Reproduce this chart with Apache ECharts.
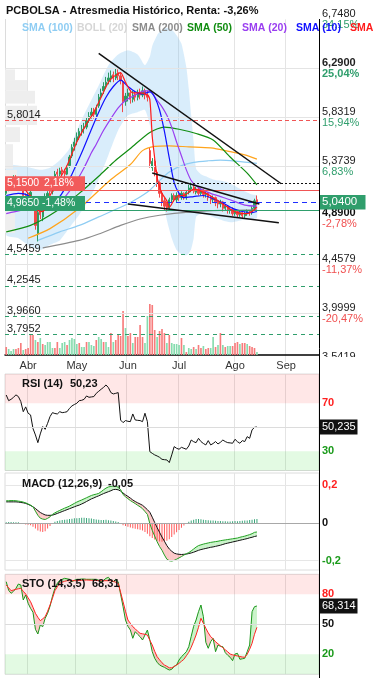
<!DOCTYPE html>
<html><head><meta charset="utf-8">
<script src="https://cdn.jsdelivr.net/npm/echarts@6/dist/echarts.min.js"></script>
<style>html,body{margin:0;padding:0;background:#fff}#c{width:373px;height:678px}</style>
</head><body><div id="c"></div>
<script>
// ---------- DATA ----------
const holidays = ['2025-04-18','2025-04-21','2025-05-01'];
const categories = [];
(function(){let d=new Date(Date.UTC(2025,2,19));while(categories.length<129){const wd=d.getUTCDay();const s=d.toISOString().slice(0,10);if(wd!==0&&wd!==6&&holidays.indexOf(s)<0)categories.push(s);d=new Date(d.getTime()+86400000);}})();
const MONTHS = ['Ene','Feb','Mar','Abr','May','Jun','Jul','Ago','Sep','Oct','Nov','Dic'];

// [open, close, low, high]
const ohlc = [
[5.12,5.16,5.10,5.19],[5.16,5.20,5.14,5.22],[5.20,5.22,5.17,5.25],[5.22,5.26,5.20,5.29],[5.27,5.24,5.21,5.29],
[5.24,5.20,5.18,5.26],[5.20,5.18,5.15,5.22],[5.18,5.10,5.08,5.19],[5.10,5.06,5.03,5.12],[5.06,5.10,5.04,5.13],
[5.08,5.13,5.06,5.15],[5.06,5.00,4.97,5.08],[4.97,4.82,4.78,4.99],[4.74,4.94,4.67,4.97],[5.02,4.92,4.88,5.05],
[4.90,5.02,4.86,5.05],[5.04,5.08,5.00,5.12],[5.06,5.12,5.04,5.14],[5.15,5.14,5.10,5.18],[5.14,5.16,5.11,5.19],
[5.20,5.30,5.18,5.33],[5.32,5.30,5.27,5.35],[5.30,5.33,5.28,5.36],[5.34,5.32,5.29,5.37],[5.33,5.30,5.27,5.35],
[5.30,5.36,5.29,5.38],[5.38,5.46,5.36,5.48],[5.47,5.55,5.45,5.58],[5.56,5.60,5.52,5.64],[5.61,5.65,5.57,5.69],
[5.65,5.70,5.62,5.73],[5.70,5.72,5.66,5.76],[5.73,5.74,5.68,5.78],[5.74,5.80,5.72,5.83],[5.82,5.84,5.78,5.88],
[5.85,5.88,5.82,5.92],[5.90,5.86,5.82,5.92],[5.86,5.92,5.84,5.95],[5.94,6.02,5.92,6.05],[6.03,6.06,6.00,6.10],
[6.08,6.12,6.05,6.16],[6.13,6.16,6.10,6.21],[6.17,6.20,6.14,6.25],[6.20,6.22,6.16,6.27],[6.23,6.20,6.16,6.26],
[6.20,6.24,6.18,6.29],[6.25,6.22,6.18,6.28],[6.22,6.18,6.14,6.25],[6.16,5.98,5.88,6.18],[5.98,6.03,5.94,6.06],
[6.03,6.06,5.98,6.10],[6.06,6.00,5.96,6.09],[6.00,6.04,5.97,6.08],[6.05,6.02,5.98,6.08],[6.02,6.06,5.99,6.09],
[6.06,6.04,6.00,6.10],[6.04,6.08,6.02,6.12],[6.08,6.04,6.00,6.10],[6.04,6.02,5.98,6.08],[5.52,5.40,5.36,5.55],
[5.36,5.42,5.33,5.45],[5.42,5.32,5.28,5.44],[5.32,5.22,5.18,5.34],[5.22,5.12,5.08,5.24],[5.12,5.04,5.00,5.15],
[5.05,5.00,4.96,5.08],[5.02,4.98,4.95,5.04],[4.98,5.06,4.97,5.08],[5.06,5.10,5.03,5.12],[5.10,5.06,5.04,5.12],
[5.06,5.10,5.04,5.13],[5.10,5.08,5.05,5.12],[5.08,5.12,5.06,5.14],[5.12,5.08,5.06,5.13],[5.08,5.13,5.06,5.15],
[5.13,5.17,5.11,5.20],[5.16,5.18,5.13,5.22],[5.18,5.14,5.12,5.20],[5.13,5.16,5.11,5.18],[5.16,5.12,5.10,5.17],
[5.12,5.15,5.10,5.17],[5.15,5.11,5.08,5.16],[5.11,5.12,5.08,5.14],[5.12,5.08,5.05,5.13],[5.08,5.06,5.02,5.10],
[5.06,5.08,5.03,5.10],[5.08,5.03,5.00,5.09],[5.04,5.02,4.98,5.06],[5.02,5.04,4.99,5.06],[5.04,4.98,4.95,5.05],
[4.98,5.00,4.96,5.02],[5.00,4.96,4.93,5.01],[4.96,4.97,4.93,4.99],[4.97,4.93,4.91,4.99],[4.93,4.95,4.91,4.97],
[4.95,4.92,4.89,4.96],[4.92,4.94,4.90,4.96],[4.94,4.91,4.89,4.96],[4.91,4.93,4.89,4.95],[4.93,4.95,4.91,4.97],
[4.95,4.94,4.91,4.96],[4.94,4.98,4.92,5.00],[4.98,5.05,4.97,5.07],[5.06,5.04,5.01,5.10]
];
// volume (thousands) and colour (1 = green)
const volume = [80,60,40,60,60,70,120,50,60,70, 200,200,150,130,170,110,100,130,130,70, 70,130,70,120,130,100,150,170,160,110,
 120,80,80,130,130,100,90,150,180,160, 130,130,80,220,130,150,210,190,440,270, 190,220,120,180,180,300,180,120,390,510,
 500,250,180,240,260,220,120,200,120,110, 110,100,170,100,30,70,60,80,60,100, 70,90,60,70,70,180,80,100,220,100,
 80,90,90,90,120,130,110,120,120,110, 90,80,70,30];
const volumeUp = [0,1,1,1,0,0,0,1,0,0, 0,0,1,0,1,0,1,1,1,1, 0,0,1,1,1,0,1,1,1,1, 0,1,1,0,1,1,1,0,1,1,
 0,1,1,0,1,0,0,0,0,1, 0,0,1,0,0,0,0,1,1,0, 0,0,1,0,0,0,1,0,1,1, 1,1,0,1,0,1,1,0,1,0,
 0,1,0,0,1,1,0,1,0,1, 0,1,1,0,0,0,1,0,0,1, 0,0,0,1];

// moving averages [index, value]
const sma5 = [[0,5.16],[3,5.21],[6,5.20],[9,5.12],[11,5.07],[13,4.96],[15,4.95],[18,5.10],[21,5.22],[25,5.38],[29,5.60],[33,5.77],[36,5.88],[39,6.02],[42,6.16],[44,6.21],[46,6.24],[47,6.25],[49,6.16],[52,6.06],[55,6.06],[58,6.04],[59,6.00],[60,5.65],[61,5.45],[62,5.27],[63,5.18],[64,5.12],[66,5.05],[67,4.99],[69,5.06],[71,5.10],[73,5.10],[75,5.13],[77,5.16],[79,5.15],[81,5.13],[83,5.11],[85,5.08],[87,5.05],[89,5.02],[91,4.99],[93,4.96],[95,4.94],[97,4.93],[99,4.93],[101,4.95],[103,4.99]];
const sma10 = [[0,5.10],[5,5.12],[9,5.10],[12,5.02],[15,4.97],[18,4.99],[21,5.06],[24,5.16],[27,5.30],[31,5.50],[35,5.72],[38,5.88],[41,6.02],[44,6.12],[47,6.18],[50,6.12],[53,6.07],[56,6.05],[59,6.07],[61,6.02],[63,5.90],[65,5.70],[67,5.45],[69,5.22],[71,5.12],[73,5.08],[77,5.09],[81,5.10],[85,5.07],[89,5.03],[93,4.98],[97,4.95],[101,4.94],[103,4.95]];
const sma20 = [[0,4.93],[6,4.96],[12,4.98],[18,4.98],[22,5.03],[26,5.14],[29,5.24],[32,5.36],[35,5.50],[37,5.58],[40,5.71],[43,5.82],[46,5.92],[49,5.99],[53,6.04],[57,6.08],[59,6.08],[62,5.99],[64,5.93],[66,5.85],[68,5.74],[70,5.60],[72,5.47],[74,5.34],[76,5.24],[78,5.19],[80,5.16],[84,5.12],[88,5.09],[92,5.06],[98,5.01],[103,5.00]];
const sma50 = [[0,4.76],[10,4.82],[21,4.96],[30,5.12],[38,5.28],[45,5.43],[51,5.54],[59,5.69],[65,5.74],[71,5.72],[78,5.68],[85,5.62],[92,5.46],[99,5.31],[103,5.20]];
const smaOrange = [[9,4.70],[18,4.79],[30,4.98],[43,5.25],[51,5.39],[56,5.52],[61,5.56],[67,5.565],[75,5.555],[84,5.545],[92,5.51],[98,5.48],[103,5.44]];
const sma100 = [[13,4.68],[22,4.76],[30,4.82],[38,4.90],[47,4.99],[53,5.06],[59,5.15],[63,5.24],[67,5.32],[72,5.38],[77,5.41],[83,5.425],[88,5.432],[95,5.42],[103,5.40]];
const sma200 = [[15,4.61],[30,4.68],[38,4.74],[47,4.82],[55,4.88],[63,4.915],[75,4.945],[89,4.96],[103,4.965]];
const bollUpper = [[0,5.38],[5,5.38],[10,5.36],[14,5.34],[18,5.36],[22,5.43],[26,5.54],[30,5.76],[34,5.95],[38,6.13],[42,6.32],[46,6.42],[50,6.46],[54,6.42],[57,6.32],[59,6.40],[60,6.50],[62,6.60],[64,6.65],[66,6.67],[68,6.65],[70,6.60],[72,6.52],[74,6.30],[75,6.10],[76,5.85],[77,5.60],[78,5.35],[80,5.30],[82,5.28],[85,5.25],[90,5.23],[93,5.20],[97,5.15],[101,5.11],[103,5.10]];
const bollLower = [[0,4.73],[5,4.70],[10,4.62],[14,4.59],[18,4.64],[22,4.68],[26,4.80],[30,4.92],[34,5.06],[38,5.25],[42,5.48],[46,5.71],[50,5.85],[54,5.88],[57,5.90],[59,5.76],[60,5.62],[62,5.38],[64,5.10],[66,4.87],[68,4.70],[70,4.59],[72,4.55],[74,4.54],[75,4.56],[76,4.60],[77,4.70],[78,4.90],[80,4.93],[82,4.92],[85,4.90],[90,4.86],[93,4.85],[97,4.87],[101,4.88],[103,4.89]];
// trend lines [index, price]
const trendUpper = [[38,6.43],[113,5.21]];
const flagUpper = [[60,5.31],[104,5.02]];
const flagLower = [[50,5.02],[112,4.845]];
// volume profile [volume, priceLow, priceHigh]
const profile = [[10,6.18,6.28],[22,6.08,6.18],[30,5.96,6.08],[32,5.76,5.94],[15,5.60,5.74],[8,5.35,5.58],[12,5.12,5.34],[20,4.98,5.12],[10,4.75,4.98]];

// price axis
const priceTicks = [6.748,6.29,5.8319,5.3739,4.4579,3.9999,3.5419];
const priceTickText = ['6,7480','6,2900','5,8319','5,3739','4,4579','3,9999','3,5419'];
const priceTickPct = ['34,15%','25,04%','15,94%','6,83%','-11,37%','-20,47%','-29,59%'];
const supportLevels = [4.5459,4.2545,3.9660,3.7952];
const supportText = ['4,5459','4,2545','3,9660','3,7952'];

const rsi = [76.9,72.2,73.3,75,77,75.6,71.4,63,67,61.7, 60.3,49,43.6,37.2,44.5,50.6,48.3,53.3,58.9,62.2,
 61.5,61.1,63,62.2,62.5,63,65.8,67.8,69,70, 72.2,72.5,73.3,76.1,75,75.3,75.6,78.3,80,81.7,
 83.3,85.3,83,78.9,77.8,78.3,78.9,56,53.9,55.6, 55,54.7,61.1,56.1,55.8,55.6,54.7,61.7,54.7,29.7,
 28.3,27,26.1,25,23.3,23,22.8,20.6,27,33.9, 32.5,31.7,33.3,32.5,31.7,34.4,39.4,38,37.2,40.8,
 38.1,36.5,35.3,38.9,35.3,36.5,38.1,36.1,37.5,39.4, 38.1,37.2,37,36.7,40,38,36.7,38.9,38.1,42.2,
 40.8,47.8,50,50.23];
const macd = [0.117,0.117,0.118,0.118,0.117,0.115,0.113,0.110,0.106,0.100, 0.094,0.085,0.062,0.040,0.025,0.020,0.018,0.024,0.032,0.045,
 0.053,0.060,0.066,0.072,0.078,0.083,0.089,0.096,0.103,0.110, 0.116,0.121,0.127,0.133,0.139,0.145,0.149,0.152,0.156,0.165,
 0.175,0.184,0.190,0.193,0.195,0.195,0.188,0.176,0.150,0.138, 0.128,0.118,0.110,0.102,0.093,0.085,0.075,0.060,0.045,-0.004,
 -0.040,-0.070,-0.100,-0.125,-0.145,-0.170,-0.192,-0.200,-0.202,-0.198, -0.192,-0.185,-0.178,-0.170,-0.163,-0.157,-0.148,-0.138,-0.128,-0.120,
 -0.116,-0.112,-0.109,-0.106,-0.103,-0.101,-0.099,-0.097,-0.094,-0.092, -0.090,-0.088,-0.086,-0.084,-0.082,-0.080,-0.076,-0.073,-0.070,-0.066,
 -0.062,-0.057,-0.050,-0.048];
const macdSignal = [0.111,0.111,0.111,0.111,0.111,0.110,0.108,0.106,0.103,0.098, 0.092,0.085,0.076,0.065,0.055,0.048,0.042,0.040,0.040,0.041,
 0.045,0.050,0.055,0.060,0.065,0.070,0.075,0.080,0.085,0.090, 0.094,0.100,0.106,0.113,0.120,0.127,0.132,0.138,0.143,0.149,
 0.155,0.160,0.165,0.170,0.176,0.177,0.175,0.168,0.158,0.148, 0.140,0.131,0.121,0.113,0.106,0.100,0.093,0.082,0.070,0.056,
 0.030,0.002,-0.025,-0.050,-0.075,-0.097,-0.120,-0.138,-0.150,-0.160, -0.164,-0.166,-0.167,-0.166,-0.165,-0.162,-0.159,-0.155,-0.150,-0.145,
 -0.141,-0.138,-0.135,-0.132,-0.129,-0.127,-0.124,-0.121,-0.118,-0.114, -0.110,-0.107,-0.104,-0.101,-0.098,-0.095,-0.092,-0.089,-0.086,-0.083,
 -0.079,-0.076,-0.072,-0.069];
const macdHist = [0.004,0.005,0.005,0.004,0.004,0.003,-0.004,-0.006,-0.008,-0.010, -0.012,-0.020,-0.030,-0.040,-0.046,-0.048,-0.044,-0.030,-0.016,-0.005,
 0.006,0.010,0.013,0.015,0.016,0.018,0.020,0.022,0.024,0.025, 0.026,0.027,0.027,0.026,0.025,0.023,0.020,0.018,0.016,0.015,
 0.015,0.016,0.014,0.012,0.010,0.008,0.005,-0.006,-0.012,-0.016, -0.020,-0.025,-0.028,-0.031,-0.034,-0.036,-0.040,-0.048,-0.058,-0.070,
 -0.080,-0.088,-0.095,-0.099,-0.100,-0.098,-0.094,-0.086,-0.074,-0.062, -0.050,-0.038,-0.026,-0.014,-0.004,0.006,0.012,0.017,0.020,0.020,
 0.019,0.017,0.015,0.014,0.013,0.012,0.011,0.010,0.010,0.009, 0.009,0.008,0.008,0.009,0.010,0.009,0.010,0.011,0.012,0.013,
 0.015,0.017,0.019,0.021];
const stoK = [92.6,84,81,83,86,90.3,89.3,74.3,79.3,71, 66,62,45,40.3,49.3,47.6,56,61,68,78,
 86,91,94,95,96,95.5,95,92.6,94,95, 95,95.3,95.3,95,95,95,95,95,94,92.6,
 94,96,97,94,92.6,95,92.6,80,67.6,54.3, 48,44.3,36,42.6,40,37.6,34.3,39.3,44.3,34.3,
 22.6,16,12,9.3,8,7,5.5,4.3,5,8, 9.3,14.3,17.6,20,22.6,27.6,38,48,54.3,62.6,
 69.3,57.6,32,26,32.6,36,22.6,29.3,28,27.6, 21.6,19,17,13.6,20.3,21,15,15.5,16,22.6,
 29.3,62.6,67.6,68.31];
const stoD = [89.3,86.5,83.6,84.3,85,85.5,86,83,80.3,76.5, 72.6,67,61,57,53.6,55.5,57.6,63,69.3,76,
 83.6,87.5,91,92.2,93,93.6,93.6,93.6,93.6,93.6, 93.8,94,94.2,94.3,94.2,94,93.9,93.8,93.7,93.6,
 93.6,93.6,93.6,93.6,93,92,91,82,72.6,63, 54.3,51,47.6,45.5,43,41,40.5,40,39.3,34,
 29.3,23,17.6,14.5,11.5,9.3,8,6.5,6.5,7.8, 9.3,11,13,15,18.5,22,27,33,39.3,47,
 56,51,46,41.5,37.6,35.5,32.5,30.5,28.5,26.5, 24.5,22.5,20.3,19.5,18.8,18.3,17.8,17.3,17,20,
 25,31,40,47];

// ---------- CHART ----------
const fam = 'Liberation Sans, Arial, sans-serif';
const chart = echarts.init(document.getElementById('c'), null, {renderer:'canvas', width:373, height:678});
function isMonthStart(i){ return i>0 && i<categories.length && categories[i].slice(5,7)!==categories[i-1].slice(5,7); }
const GRIDC = '#e4e4e4';
function catAxis(gi, extra){
  return Object.assign({type:'category', gridIndex:gi, data:categories, boundaryGap:true,
    axisLine:{show:false}, axisTick:{show:false}, axisLabel:{show:false},
    splitLine:{show:true, interval:(i)=>isMonthStart(i), lineStyle:{color:GRIDC, width:1}}}, extra||{});
}
function valAxis(gi, min, max){
  return {type:'value', gridIndex:gi, min, max, position:'right', axisLine:{show:false}, axisTick:{show:false}, axisLabel:{show:false}, splitLine:{show:false}};
}
function fillBetween(xi, yi, a, b, upC, downC){
  const data=[]; for(let i=0;i<a.length-1;i++) data.push([i,a[i]]);
  return {type:'custom', xAxisIndex:xi, yAxisIndex:yi, z:1, silent:true, clip:true, encode:{x:0,y:1}, data,
    renderItem(params, api){
      const i=api.value(0);
      const p1a=api.coord([i,a[i]]), p2a=api.coord([i+1,a[i+1]]), p1b=api.coord([i,b[i]]), p2b=api.coord([i+1,b[i+1]]);
      const d1=a[i]-b[i], d2=a[i+1]-b[i+1];
      if(d1*d2>=0) return {type:'polygon', shape:{points:[p1a,p2a,p2b,p1b]}, style:{fill:(d1+d2)>=0?upC:downC}};
      const t=d1/(d1-d2); const pc=[p1a[0]+t*(p2a[0]-p1a[0]), p1a[1]+t*(p2a[1]-p1a[1])];
      return {type:'group', children:[
        {type:'polygon', shape:{points:[p1a,pc,p1b]}, style:{fill:d1>0?upC:downC}},
        {type:'polygon', shape:{points:[pc,p2a,p2b]}, style:{fill:d2>0?upC:downC}}]};
    }};
}
function maLine(data, color, z){
  return {type:'line', xAxisIndex:0, yAxisIndex:0, data, showSymbol:false, symbol:'none', smooth:0.25, silent:true, z:z||4,
    lineStyle:{color, width:1.2}};
}
function trend(data){
  return {type:'line', xAxisIndex:0, yAxisIndex:0, data, showSymbol:false, symbol:'none', silent:true, z:6, lineStyle:{color:'#111', width:1.5}};
}
const GREEN='#2f9e6c', RED='#f25b5b';
const ml = (v, color, type, w)=>({yAxis:v, lineStyle:{color, type, width:w||1}});

const option = {
  animation:false,
  textStyle:{fontFamily:fam},
  grid:[
    {left:5, top:19.4, width:314, height:342.6, containLabel:false},
    {left:5, top:295, width:314, height:60, containLabel:false},
    {left:5, top:19.4, width:314, height:342.6, containLabel:false},
    {left:5, top:374, width:314, height:96.5, show:true, borderColor:'#dcdcdc', borderWidth:1, containLabel:false},
    {left:5, top:473, width:314, height:97, show:true, borderColor:'#dcdcdc', borderWidth:1, containLabel:false},
    {left:5, top:574.3, width:314, height:100, show:true, borderColor:'#dcdcdc', borderWidth:1, containLabel:false}
  ],
  xAxis:[
    catAxis(0),
    catAxis(1, {axisLine:{show:true, lineStyle:{color:'#000', width:1.5}}, splitLine:{show:false},
      axisLabel:{show:true, interval:(i)=>isMonthStart(i), formatter:(v)=>MONTHS[+v.slice(5,7)-1], fontSize:11, color:'#333', margin:5, fontFamily:fam}}),
    {type:'value', gridIndex:2, min:0, max:314, show:false},
    catAxis(3), catAxis(4), catAxis(5)
  ],
  yAxis:[
    valAxis(0, 3.5419, 6.748), valAxis(1, 0, 600), valAxis(2, 3.5419, 6.748),
    valAxis(3, 14, 94.4), valAxis(4, -0.249, 0.2637), valAxis(5, 0, 100)
  ],
  series:[
    // Bollinger band fill
    {type:'custom', xAxisIndex:0, yAxisIndex:0, z:1, silent:true, clip:true, encode:{x:0,y:1}, data:[bollUpper[0]],
      renderItem(params, api){
        const pts = bollUpper.map(p=>api.coord(p)).concat(bollLower.slice().reverse().map(p=>api.coord(p)));
        return {type:'polygon', shape:{points:pts, smooth:0.2}, style:{fill:'rgba(120,190,240,0.28)'}};
      }},
    // volume profile
    {type:'custom', xAxisIndex:2, yAxisIndex:2, z:1, silent:true, encode:{x:0,y:1}, data:profile,
      renderItem(params, api){
        const a=api.coord([0, api.value(2)]), b=api.coord([api.value(0), api.value(1)]);
        return {type:'rect', shape:{x:a[0], y:a[1], width:b[0]-a[0], height:b[1]-a[1]}, style:{fill:'#eeeeee'}};
      }},
    // price grid lines
    {type:'line', xAxisIndex:0, yAxisIndex:0, data:[], z:0, silent:true,
      markLine:{silent:true, symbol:['none','none'], label:{show:false},
        data: priceTicks.map(v=>({yAxis:v, lineStyle:{color:GRIDC, type:'solid', width:1}}))}},
    // volume
    {type:'bar', xAxisIndex:1, yAxisIndex:1, barWidth:'68%', silent:true, z:2,
      data: volume.map((v,i)=>({value:v, itemStyle:{color: volumeUp[i]?'#86dcae':'#f77c7c'}}))},
    // candles
    {type:'candlestick', xAxisIndex:0, yAxisIndex:0, data:ohlc, barWidth:'72%', silent:true, z:3,
      itemStyle:{color:'#2c9c62', color0:'#f24848', borderColor:'#2c9c62', borderColor0:'#f24848', borderWidth:1}},
    maLine(sma200,'#8c8c8c'), maLine(sma100,'#8fcdf3'), maLine(smaOrange,'#ffa41c'), maLine(sma50,'#118d11'),
    maLine(sma20,'#9a3ff0'), maLine(sma10,'#1010ff'), maLine(sma5,'#ff1c1c',5),
    trend(trendUpper), trend(flagUpper), trend(flagLower),
    // reference lines
    {type:'line', xAxisIndex:0, yAxisIndex:0, data:[], z:6, silent:true,
      markLine:{silent:true, symbol:['none','none'], label:{show:false}, data:[
        ml(5.8014,'#f05555',[4,3]), ml(5.207,'#111',[2,2]), ml(5.15,'#f05555','solid'), ml(5.04,'#1f2fff',[5,4]),
        ml(4.965,GREEN,'solid')].concat(supportLevels.map(v=>ml(v,'#2f9e6c',[4,4])))}},
    // RSI
    {type:'line', xAxisIndex:3, yAxisIndex:3, data:rsi, showSymbol:false, symbol:'none', silent:true, z:3, lineStyle:{color:'#111', width:1},
      markArea:{silent:true, data:[[{yAxis:70, itemStyle:{color:'rgba(255,0,0,0.095)'}},{yAxis:94.4}],[{yAxis:14, itemStyle:{color:'rgba(0,210,0,0.11)'}},{yAxis:30}]]},
      markLine:{silent:true, symbol:['none','none'], label:{show:false}, data:[ml(50,'#dcdcdc','solid')]}},
    // MACD
    fillBetween(4,4,macd,macdSignal,'rgba(90,220,90,0.33)','rgba(250,110,110,0.38)'),
    {type:'bar', xAxisIndex:4, yAxisIndex:4, barWidth:1, silent:true, z:2,
      data: macdHist.map(v=>({value:v, itemStyle:{color: v>=0?'#3aa57a':'#ff5b5b'}})),
      markLine:{silent:true, symbol:['none','none'], label:{show:false}, data:[ml(0,'#a8a8a8','solid'), ml(0.2,'#e6e6e6','solid'), ml(-0.2,'#e6e6e6','solid')]}},
    {type:'line', xAxisIndex:4, yAxisIndex:4, data:macdSignal, showSymbol:false, symbol:'none', silent:true, z:3, lineStyle:{color:'#111', width:1}},
    {type:'line', xAxisIndex:4, yAxisIndex:4, data:macd, showSymbol:false, symbol:'none', silent:true, z:3, lineStyle:{color:'#22a022', width:1}},
    // STO
    fillBetween(5,5,stoK,stoD,'rgba(90,220,90,0.33)','rgba(250,110,110,0.38)'),
    {type:'line', xAxisIndex:5, yAxisIndex:5, data:stoK, showSymbol:false, symbol:'none', silent:true, z:3, lineStyle:{color:'#1a961a', width:1},
      markArea:{silent:true, data:[[{yAxis:80, itemStyle:{color:'rgba(255,0,0,0.095)'}},{yAxis:100}],[{yAxis:0, itemStyle:{color:'rgba(0,210,0,0.11)'}},{yAxis:20}]]},
      markLine:{silent:true, symbol:['none','none'], label:{show:false}, data:[ml(50,'#dcdcdc','solid')]}},
    {type:'line', xAxisIndex:5, yAxisIndex:5, data:stoD, showSymbol:false, symbol:'none', silent:true, z:3, lineStyle:{color:'#ff2222', width:1}}
  ]
};
chart.setOption(option);

// ---------- TEXT / ANNOTATIONS ----------
const G=[];
const py=(v)=>chart.convertToPixel({yAxisIndex:0}, v);
const yy=(ax,v)=>chart.convertToPixel({yAxisIndex:ax}, v);
function txt(x,y,s,fill,size,bold,z){
  G.push({type:'text', x, y, z:z||100, silent:true, style:{text:s, fill:fill||'#222', font:(bold?'bold ':'')+(size||11)+'px '+fam,
    textAlign:'left', align:'left', textVerticalAlign:'middle', verticalAlign:'middle'}});
}
function rect(x,y,w,h,fill,z){ G.push({type:'rect', z:z||99, silent:true, shape:{x,y,width:w,height:h}, style:{fill}}); }

// right price labels
priceTicks.forEach((v,k)=>{
  const y=py(v); const bold=(k===1);
  txt(322, y-5.3, priceTickText[k], '#222', 11, bold);
  txt(322, y+5.5, priceTickPct[k], priceTickPct[k][0]==='-'?'#f05050':'#2f9e6c', 11, bold);
});
txt(322, py(4.89)-5.3, '4,8900', '#111', 11, true);
txt(322, py(4.89)+6, '-2,78%', '#f05050', 11, false);
rect(320, 357, 53, 16, '#fff', 101);
rect(319.5, py(5.04)-7, 46, 14.5, GREEN, 102);
txt(322, py(5.04), '5,0400', '#fff', 11.5, false, 103);

// left labels
txt(7, py(5.8014)-6, '5,8014', '#222', 11);
supportLevels.forEach((v,k)=>txt(7, py(v)-6, supportText[k], '#222', 11));
rect(5, py(5.15)-14, 80, 14, RED, 99);
txt(7, py(5.15)-7, '5,1500', '#fff', 10.5, false); txt(44, py(5.15)-7, '2,18%', '#fff', 10.5, false);
rect(5, py(4.965)-14, 80, 14, GREEN, 99);
txt(7, py(4.965)-7, '4,9650', '#fff', 10.5, false); txt(42, py(4.965)-7, '-1,48%', '#fff', 10.5, false);

// title & legend
txt(6, 11, 'PCBOLSA - Atresmedia Histórico, Renta: -3,26%', '#111', 11, true);
const legendItems=[['SMA (100)','#8fcdf3',22],['BOLL (20)','#d6d6d6',77],['SMA (200)','#8c8c8c',132],['SMA (50)','#118d11',187],['SMA (20)','#9a3ff0',242],['SMA (10)','#1010ff',296],['SMA (5)','#ff1c1c',350]];
legendItems.forEach(it=>txt(it[2], 28, it[0], it[1], 10.5, true, 110));

// panels
txt(22, 383.5, 'RSI (14)', '#111', 11, true); txt(70, 383.5, '50,23', '#111', 11, true);
txt(22, 483.5, 'MACD (12,26,9)', '#111', 11, true); txt(108, 483.5, '-0,05', '#111', 11, true);
txt(22, 583.5, 'STO (14,3,5)', '#111', 11, true); txt(92, 583.5, '68,31', '#111', 11, true);
txt(322, yy(3,70), '70', '#ff2020', 11, true); txt(322, yy(3,30), '30', '#1a9a1a', 11, true);
rect(319.5, yy(3,50.235)-7.5, 38, 15, '#111', 102); txt(322, yy(3,50.235), '50,235', '#fff', 11, false, 103);
txt(322, yy(4,0.2), '0,2', '#ff2020', 11, true); txt(322, yy(4,0), '0', '#111', 11, true); txt(322, yy(4,-0.2), '-0,2', '#1a9a1a', 11, true);
txt(322, yy(5,80), '80', '#ff2020', 11, true); txt(322, yy(5,50), '50', '#111', 11, true); txt(322, yy(5,20), '20', '#1a9a1a', 11, true);
rect(319.5, yy(5,68.314)-7.5, 38, 15, '#111', 102); txt(322, yy(5,68.314), '68,314', '#fff', 11, false, 103);

// frame lines
G.push({type:'line', z:105, silent:true, shape:{x1:319.5, y1:19, x2:319.5, y2:678}, style:{stroke:'#000', lineWidth:1}});
G.push({type:'line', z:0, silent:true, shape:{x1:5.5, y1:19, x2:5.5, y2:356}, style:{stroke:'#dcdcdc', lineWidth:1}});

chart.setOption({graphic:G});
</script></body></html>
